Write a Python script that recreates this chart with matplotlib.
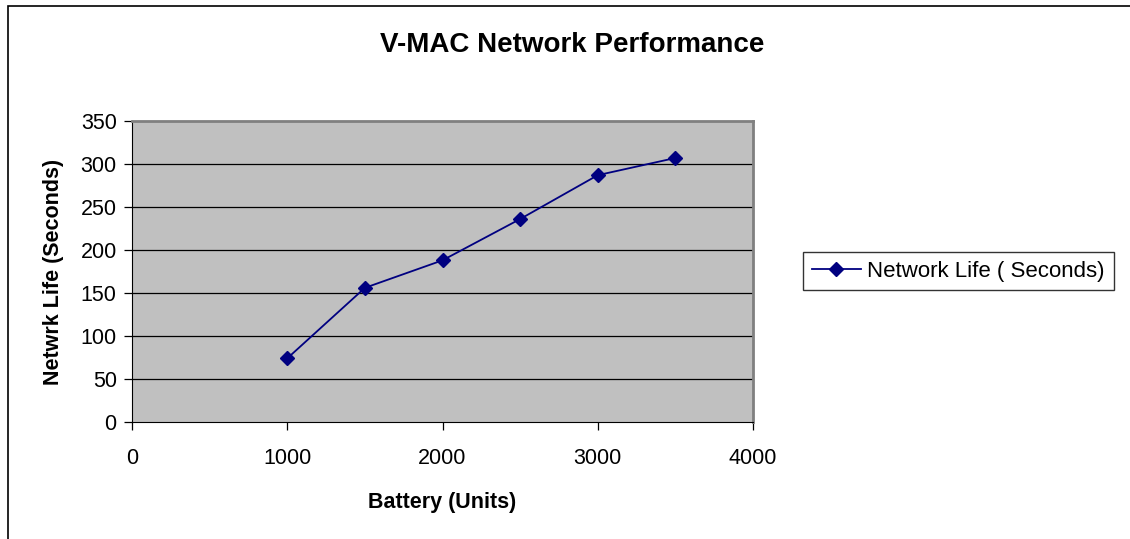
import matplotlib.pyplot as plt
from matplotlib.patches import Rectangle

battery = [1000, 1500, 2000, 2500, 3000, 3500]
network_life = [74, 156, 188, 236, 287, 307]
x_ticks = [0, 1000, 2000, 3000, 4000]
y_ticks = [0, 50, 100, 150, 200, 250, 300, 350]

plt.rcParams['font.family'] = ['Liberation Sans', 'DejaVu Sans']

fig = plt.figure(figsize=(11.3, 5.39), dpi=100)
ax = fig.add_axes([132 / 1130, 1 - 422 / 539, (753 - 132) / 1130, (422 - 121) / 539])

# outer chart border (top and left visible only)
fig.patches.append(Rectangle((8 / 1130, -0.05), 1.1, 1 - 6 / 539 + 0.05,
                             transform=fig.transFigure, fill=False,
                             edgecolor='black', linewidth=1.2))

ax.set_facecolor('#c0c0c0')
for y in y_ticks[1:-1]:
    ax.axhline(y, color='black', linewidth=0.9, zorder=1)

ax.plot(battery, network_life, color='#000080', marker='D', markersize=7,
        linewidth=1.3, label='Network Life ( Seconds)', zorder=3)

ax.set_xlim(0, 4000)
ax.set_ylim(0, 350)
ax.set_xticks(x_ticks)
ax.set_yticks(y_ticks)
ax.tick_params(axis='both', direction='out', length=6, width=0.9, labelsize=15.5,
               colors='black')
ax.tick_params(axis='x', pad=13)
ax.tick_params(axis='y', pad=5)

ax.spines['left'].set_color('black')
ax.spines['bottom'].set_color('black')
ax.spines['top'].set_color('#808080')
ax.spines['right'].set_color('#808080')
ax.spines['top'].set_linewidth(2)
ax.spines['right'].set_linewidth(2)

ax.set_xlabel('Battery (Units)', fontsize=15.5, fontweight='bold', labelpad=16)
ax.set_ylabel('Netwrk Life (Seconds)', fontsize=15.5, fontweight='bold', labelpad=12)

fig.text(572 / 1130, 1 - 45 / 539, 'V-MAC Network Performance', fontsize=20,
         fontweight='bold', ha='center', va='center')

leg = fig.legend(loc='center left', bbox_to_anchor=(803 / 1130, 1 - 271 / 539),
                 fontsize=16, frameon=True, fancybox=False, borderpad=0.4,
                 borderaxespad=0, handlelength=2.2, handletextpad=0.3)
leg.get_frame().set_edgecolor('black')
leg.get_frame().set_linewidth(1)

fig.savefig('out.png', dpi=100)
